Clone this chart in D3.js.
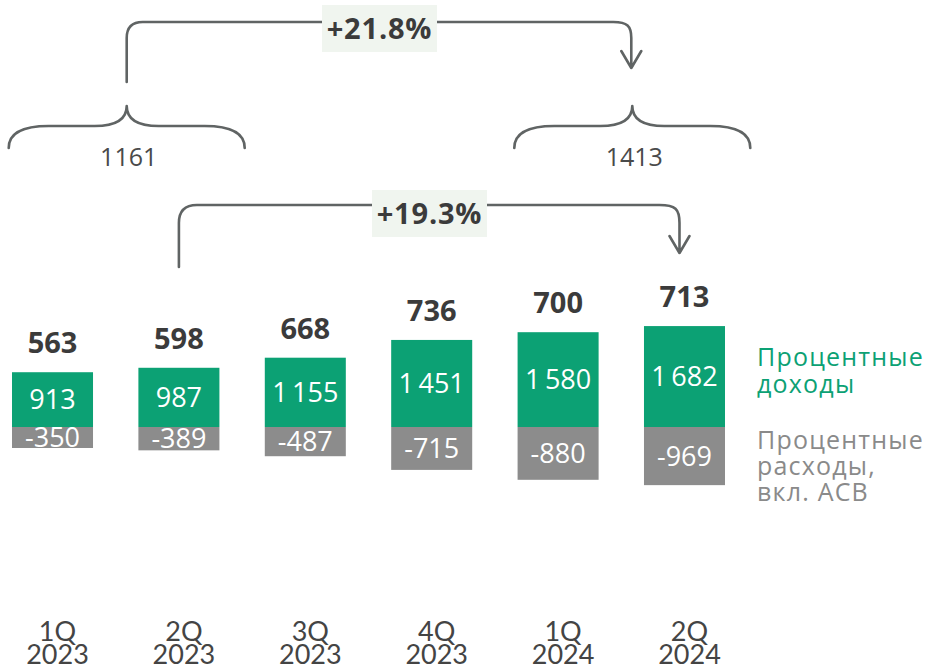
<!DOCTYPE html>
<html>
<head>
<meta charset="utf-8">
<script src="https://cdn.jsdelivr.net/npm/d3@7"></script>
<style>
  html, body { margin: 0; padding: 0; background: #fff; }
  svg { display: block; font-family: "Open Sans", "Noto Sans", sans-serif; }
</style>
</head>
<body>
<svg id="chart" width="932" height="670"></svg>
<script>
// ---- data ----
const quarters = ["1Q 2023", "2Q 2023", "3Q 2023", "4Q 2023", "1Q 2024", "2Q 2024"];
const interestIncome = [913, 987, 1155, 1451, 1580, 1682];
const interestExpense = [-350, -389, -487, -715, -880, -969];
const netIncome = [563, 598, 668, 736, 700, 713];
const halfYearTotals = [1161, 1413];           // 1H 2023, 1H 2024
const halfYearGrowth = "+21.8%";
const quarterGrowth = "+19.3%";                // 2Q 2023 -> 2Q 2024
const legendIncome = ["Процентные", "доходы"];
const legendExpense = ["Процентные", "расходы,", "вкл. АСВ"];

// ---- styles ----
const GREEN = "#0ca174";
const GREY = "#8c8c8c";
const DARK = "#3b3b3b";
const LINE = "#606464";
const BOXFILL = "#f0f5ef";

const svg = d3.select("#chart");

const x = d3.scaleBand().domain(quarters).range([12, 725]).paddingInner(0.359).paddingOuter(0);
const y = d3.scaleLinear().domain([-1000, 1000]).range([487, 367]);

const fmt = d3.formatLocale({decimal: ",", thousands: "\u2009", grouping: [3], currency: ["", ""], minus: "-"}).format(",");

const rows = quarters.map((q, i) => ({q, inc: interestIncome[i], exp: interestExpense[i], net: netIncome[i]}));

// bars
const g = svg.append("g");
g.selectAll("rect.inc").data(rows).join("rect")
  .attr("x", d => x(d.q)).attr("width", x.bandwidth())
  .attr("y", d => y(d.inc)).attr("height", d => y(0) - y(d.inc))
  .attr("fill", GREEN);
g.selectAll("rect.exp").data(rows).join("rect")
  .attr("x", d => x(d.q)).attr("width", x.bandwidth())
  .attr("y", y(0)).attr("height", d => y(d.exp) - y(0))
  .attr("fill", GREY);

// inside labels
g.selectAll("text.inc").data(rows).join("text")
  .attr("x", d => x(d.q) + x.bandwidth() / 2)
  .attr("y", d => (y(d.inc) + y(0)) / 2)
  .attr("dy", "0.36em")
  .attr("text-anchor", "middle").attr("fill", "#fff")
  .attr("font-size", 27)
  .text(d => fmt(d.inc));
g.selectAll("text.exp").data(rows).join("text")
  .attr("x", d => x(d.q) + x.bandwidth() / 2)
  .attr("y", d => (y(d.exp) + y(0)) / 2)
  .attr("dy", "0.36em")
  .attr("text-anchor", "middle").attr("fill", "#fff")
  .attr("font-size", 27)
  .text(d => fmt(d.exp));

// net labels
g.selectAll("text.net").data(rows).join("text")
  .attr("x", d => x(d.q) + x.bandwidth() / 2)
  .attr("y", d => y(d.inc) - 19)
  .attr("text-anchor", "middle").attr("fill", DARK)
  .attr("font-size", 29).attr("font-weight", 700)
  .text(d => fmt(d.net));

// quarter labels
const ql = g.selectAll("text.q").data(rows).join("text")
  .attr("text-anchor", "middle").attr("fill", "#444")
  .attr("font-family", "Lato, 'Open Sans', sans-serif")
  .attr("font-size", 27);
ql.each(function(d) {
  const parts = d.q.split(" ");
  const cx = x(d.q) + x.bandwidth() / 2 + 5;
  d3.select(this).selectAll("tspan").data(parts).join("tspan")
    .attr("x", cx).attr("y", (p, j) => 641 + j * 23).text(p => p);
});

// legend
svg.append("text").attr("fill", GREEN).attr("font-size", 25).attr("letter-spacing", 1.2)
  .selectAll("tspan").data(legendIncome).join("tspan")
  .attr("x", 757).attr("y", (d, i) => 366 + i * 27).text(d => d);
svg.append("text").attr("fill", "#8a8a8a").attr("font-size", 25).attr("letter-spacing", 1.2)
  .selectAll("tspan").data(legendExpense).join("tspan")
  .attr("x", 757).attr("y", (d, i) => 449 + i * 26).text(d => d);

// ---- braces and connectors ----
function brace(xl, xr, xt, yEnd, yMid, yTip) {
  const p = d3.path();
  p.moveTo(xl, yEnd);
  p.bezierCurveTo(xl, yMid + 4, xl + 20, yMid, xl + 40, yMid);
  p.lineTo(xt - 32, yMid);
  p.bezierCurveTo(xt - 12, yMid, xt, yMid - 6, xt, yTip);
  p.bezierCurveTo(xt, yMid - 6, xt + 12, yMid, xt + 32, yMid);
  p.lineTo(xr - 40, yMid);
  p.bezierCurveTo(xr - 20, yMid, xr, yMid + 4, xr, yEnd);
  return p.toString();
}
function connector(x0, y0, x1, y1, yTop, r) {
  const p = d3.path();
  p.moveTo(x0, y0);
  p.lineTo(x0, yTop + r);
  p.quadraticCurveTo(x0, yTop, x0 + r, yTop);
  p.lineTo(x1 - r - 2, yTop);
  p.bezierCurveTo(x1 - 4, yTop, x1, yTop + 4, x1, yTop + r);
  p.lineTo(x1, y1);
  p.moveTo(x1 - 10, y1 - 17);
  p.lineTo(x1, y1);
  p.lineTo(x1 + 10, y1 - 17);
  return p.toString();
}

const halves = [[quarters[0], quarters[1]], [quarters[4], quarters[5]]];
const braceCenters = halves.map(h => (x(h[0]) + x(h[1])) / 2 + x.bandwidth() / 2 + 11);

const lines = svg.append("g").attr("fill", "none").attr("stroke", LINE).attr("stroke-width", 2.6)
  .attr("stroke-linecap", "round").attr("stroke-linejoin", "round");
braceCenters.forEach(c => {
  lines.append("path").attr("d", brace(c - 118, c + 118, c, 148, 126, 106));
});
svg.selectAll("text.half").data(halfYearTotals).join("text")
  .attr("x", (d, i) => braceCenters[i] + 2).attr("y", 166)
  .attr("text-anchor", "middle").attr("fill", "#4a4a4a").attr("font-size", 25)
  .text(d => d);

// top connector 1H -> 1H
lines.append("path").attr("d", connector(braceCenters[0], 82, braceCenters[1] - 1, 68, 22, 16));
// second connector 2Q23 -> 2Q24
const c0 = x(quarters[1]) + x.bandwidth() / 2;
const c1 = x(quarters[5]) + x.bandwidth() / 2 - 5;
lines.append("path").attr("d", connector(c0, 267, c1, 253, 205, 18));

function badge(cx, cy, w, h, label) {
  svg.append("rect").attr("x", cx - w / 2).attr("y", cy - h / 2).attr("width", w).attr("height", h)
    .attr("fill", BOXFILL);
  svg.append("text").attr("x", cx).attr("y", cy).attr("dy", "0.36em")
    .attr("text-anchor", "middle").attr("fill", DARK).attr("letter-spacing", 0.8)
    .attr("font-size", 29).attr("font-weight", 700).text(label);
}
badge(379.5, 28.5, 115, 47, halfYearGrowth);
badge(429.5, 213.5, 115, 47, quarterGrowth);
</script>
</body>
</html>
